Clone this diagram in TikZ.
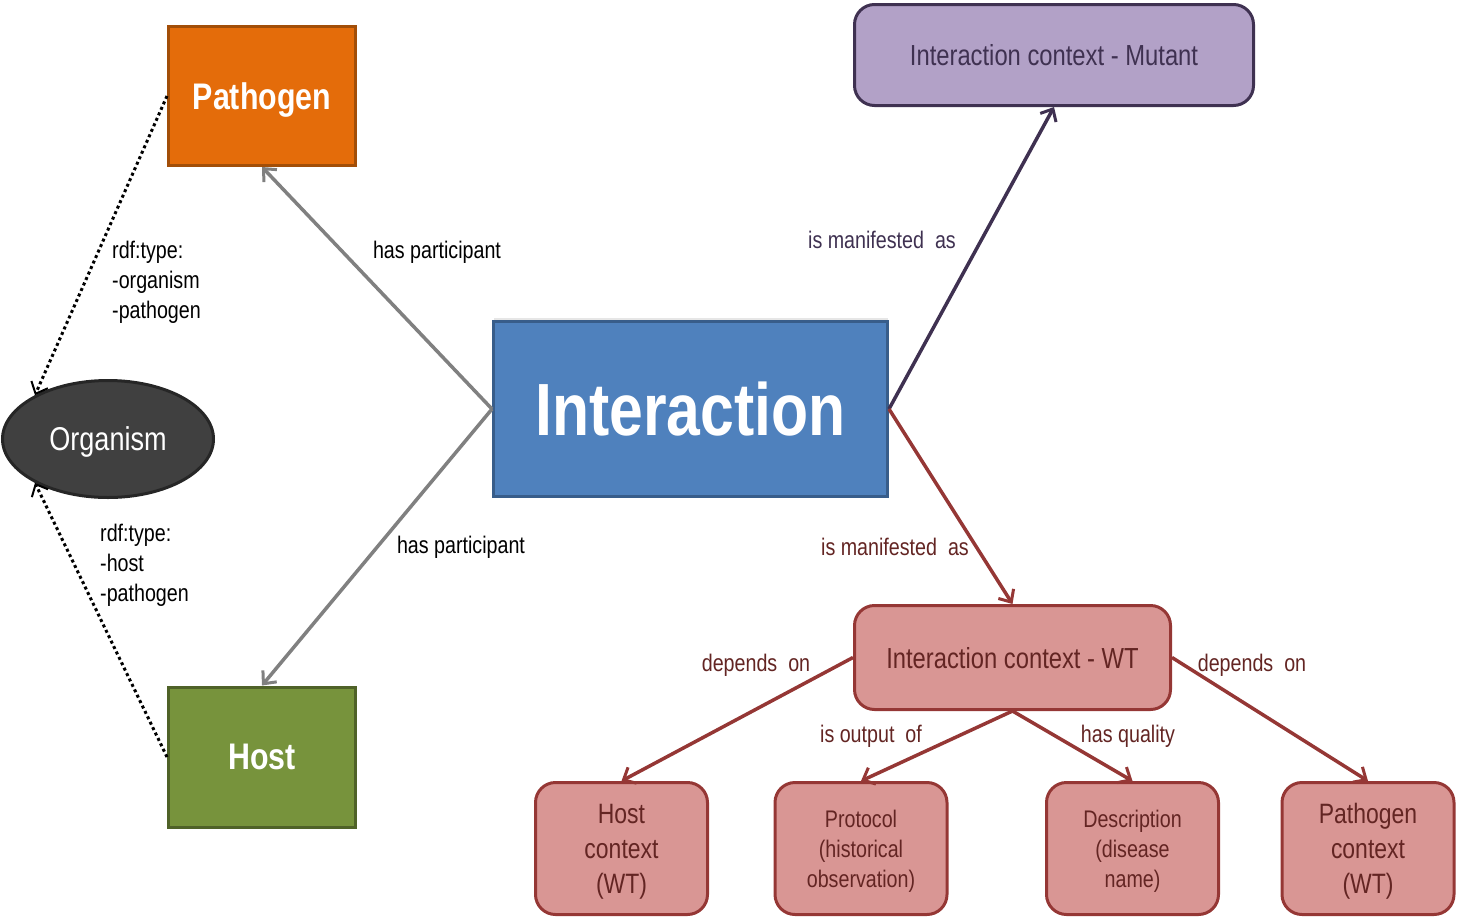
\documentclass[tikz,border=0pt]{standalone}
\usepackage{fontspec}
\setmainfont{Liberation Sans}[FakeStretch=0.82]
\usetikzlibrary{arrows.meta,shapes.geometric,shadows}

\definecolor{pathfill}{HTML}{E46C0A}
\definecolor{pathline}{HTML}{A24E08}
\definecolor{hostfill}{HTML}{77933C}
\definecolor{hostline}{HTML}{4F6228}
\definecolor{orgfill}{HTML}{404040}
\definecolor{orgline}{HTML}{262626}
\definecolor{interfill}{HTML}{4F81BD}
\definecolor{interline}{HTML}{385D8A}
\definecolor{mutfill}{HTML}{B2A1C7}
\definecolor{mutline}{HTML}{3F3151}
\definecolor{wtfill}{HTML}{D99694}
\definecolor{wtline}{HTML}{953735}
\definecolor{wttext}{HTML}{632523}
\definecolor{partline}{HTML}{808080}

\begin{document}
\begin{tikzpicture}[x=1pt,y=-1pt,
	boxnode/.style={rectangle,line width=3pt,inner sep=0pt,text=white,
		font=\bfseries\fontsize{37}{42}\selectfont},
	ctxnode/.style={rectangle,rounded corners=20pt,line width=3pt,inner sep=0pt,
		align=center},
	wtnode/.style={ctxnode,fill=wtfill,draw=wtline,text=wttext,
		minimum width=172pt,minimum height=132pt},
	rel/.style={line width=3.5pt,-{Straight Barb[length=10pt,width=18pt,line width=3pt]}},
	typeof/.style={line width=3pt,dash pattern=on 3pt off 3pt,
		-{Straight Barb[length=10pt,width=18pt,line width=2pt]}},
	lbl/.style={font=\fontsize{24}{30}\selectfont,inner sep=0pt}]

	\useasboundingbox (0,0) rectangle (1457,919);

	% Organismos
	\node[boxnode,fill=pathfill,draw=pathline,minimum width=187pt,minimum height=139pt,
		text depth=-8pt] (pathogen) at (262,96) {Pathogen};
	\node[boxnode,fill=hostfill,draw=hostline,minimum width=187pt,minimum height=140pt,
		text depth=-12pt] (host) at (262,757) {Host};
	\node[ellipse,fill=orgfill,draw=orgline,line width=3pt,text=white,
		minimum width=211pt,minimum height=117pt,inner sep=0pt,text depth=-7pt,
		font=\fontsize{33}{38}\selectfont] (organism) at (108,439) {Organism};

	% Interaccion central
	\node[boxnode,fill=interfill,draw=interline,minimum width=394pt,minimum height=175pt,
		font=\bfseries\fontsize{74}{80}\selectfont,text depth=-6pt,
		drop shadow={opacity=0.2,shadow xshift=0pt,shadow yshift=4pt}]
		(interaction) at (690.5,409) {Interaction};

	% Contextos
	\node[ctxnode,fill=mutfill,draw=mutline,text=mutline,minimum width=399pt,minimum height=101pt,
		font=\fontsize{29}{34}\selectfont,text depth=-6pt] (mutant) at (1054,55) {Interaction context - Mutant};
	\node[ctxnode,fill=wtfill,draw=wtline,text=wttext,minimum width=316pt,minimum height=104pt,
		font=\fontsize{29}{34}\selectfont,text depth=-5pt] (wt) at (1012.5,657.5) {Interaction context - WT};

	\node[wtnode,font=\fontsize{28}{35}\selectfont,text depth=-12pt] (hostctx) at (621.5,848.5) {Host\\context\\(WT)};
	\node[wtnode,font=\fontsize{24}{30}\selectfont,text depth=-5pt] (protocol) at (861,848.5) {Protocol\\(historical\\observation)};
	\node[wtnode,font=\fontsize{24}{30}\selectfont,text depth=-5pt] (descr) at (1132.5,848.5) {Description\\(disease\\name)};
	\node[wtnode,font=\fontsize{28}{35}\selectfont,text depth=-12pt] (pathctx) at (1368,848.5) {Pathogen\\context\\(WT)};

	% Relaciones
	\draw[rel,partline] (interaction.west) -- (pathogen.south);
	\draw[rel,partline] (interaction.west) -- (host.north);
	\draw[rel,mutline] (interaction.east) -- (mutant.south);
	\draw[rel,wtline] (interaction.east) -- (wt.north);
	\draw[rel,wtline] (wt.west) -- (hostctx.north);
	\draw[rel,wtline] (wt.south) -- (protocol.north);
	\draw[rel,wtline] (wt.south) -- (descr.north);
	\draw[rel,wtline] (wt.east) -- (pathctx.north);

	\draw[typeof] (pathogen.west) -- (organism.149);
	\draw[typeof] (host.west) -- (organism.211);

	% Etiquetas
	\node[lbl] (lpart1) at (437,252) {has participant};
	\node[lbl] (lpart2) at (461,547) {has participant};
	\node[lbl,text=mutline] (lman1) at (882,240) {is manifested\ \ as};
	\node[lbl,text=wttext] (lman2) at (895,547) {is manifested\ \ as};
	\node[lbl,text=wttext] (ldep1) at (756,665) {depends\ \ on};
	\node[lbl,text=wttext] (ldep2) at (1252,665) {depends\ \ on};
	\node[lbl,text=wttext] (lout) at (871,736) {is output\ \ of};
	\node[lbl,text=wttext] (lqual) at (1128,736) {has quality};
	\node[lbl,align=left,anchor=west] (ltype1) at (112,282) {rdf:type:\\-organism\\-pathogen};
	\node[lbl,align=left,anchor=west] (ltype2) at (100,565) {rdf:type:\\-host\\-pathogen};

\end{tikzpicture}
\end{document}
